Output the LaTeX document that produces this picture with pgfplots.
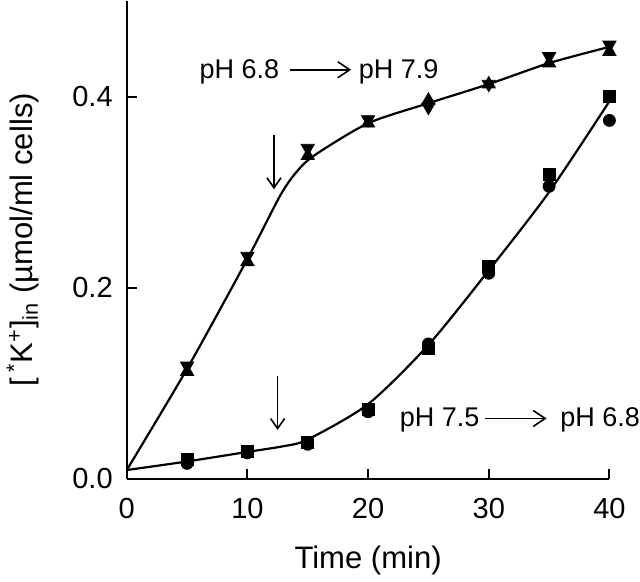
\documentclass[border=0pt]{standalone}
\usepackage{fontspec}
\setmainfont{Liberation Sans}
\usepackage{pgfplots}
\pgfplotsset{compat=1.18}
\usetikzlibrary{arrows.meta}
\begin{document}
\begin{tikzpicture}
\begin{axis}[
  scale only axis,
  width=241pt, height=238.5pt,
  xmin=0, xmax=40, ymin=0, ymax=0.5,
  axis x line*=bottom, axis y line*=left,
  axis line style={line width=1pt,-},
  tick style={line width=1pt,black},
  tick align=inside, major tick length=5pt,
  xtick={0,10,20,30,40}, ytick={0,0.2,0.4},
  minor tick num=0,
  /pgf/number format/assume math mode=true,
  yticklabel style={/pgf/number format/fixed,/pgf/number format/fixed zerofill,/pgf/number format/precision=1,font=\fontsize{14.5}{16}\selectfont, xshift=-3.5pt},
  xticklabel style={font=\fontsize{14.5}{16}\selectfont, yshift=-6pt},
  scaled y ticks=false,
  xlabel={Time (min)},
  ylabel={[\,\textsuperscript{*}K\textsuperscript{+}]\textsubscript{in} (µmol/ml cells)},
  label style={font=\fontsize{15.5}{17}\selectfont},
  xlabel style={yshift=-7pt},
  ylabel style={yshift=10pt},
  clip=false,
]
% fitted curves
\addplot[black, line width=1.1pt, smooth, tension=0.45] coordinates {
  (0,0.009) (5,0.115) (10,0.230) (12.7,0.296) (14,0.320) (15.5,0.338) (20,0.372) (25,0.393) (30,0.413) (35,0.435) (40,0.452)};
\addplot[black, line width=1.1pt, smooth, tension=0.45] coordinates {
  (0,0.009) (5,0.018) (10,0.028) (13,0.034) (15,0.041) (20,0.078) (25,0.140) (30,0.218) (35,0.300) (40,0.395)};
% upper data: triangles down and up
\addplot[only marks, mark=triangle*, mark size=3.8pt, mark options={rotate=180,fill=black,draw=black}] coordinates {
  (5,0.118) (10,0.233) (15,0.346) (20,0.376) (25,0.389) (30,0.413) (35,0.442) (40,0.454)};
\addplot[only marks, mark=triangle*, mark size=3.8pt, mark options={fill=black,draw=black}] coordinates {
  (5,0.112) (10,0.227) (15,0.338) (20,0.372) (25,0.396) (30,0.413) (35,0.435) (40,0.447)};
% lower data: squares and circles
\addplot[only marks, mark=square*, mark size=3pt, mark options={fill=black,draw=black}] coordinates {
  (5,0.020) (10,0.029) (15,0.038) (20,0.073) (25,0.136) (30,0.222) (35,0.319) (40,0.400)};
\addplot[only marks, mark=*, mark size=3pt, mark options={fill=black,draw=black}] coordinates {
  (5,0.016) (10,0.027) (15,0.036) (20,0.070) (25,0.141) (30,0.215) (35,0.306) (40,0.375)};
% arrows
\draw[line width=0.8pt, -{Straight Barb[length=5pt,width=7pt]}] (axis cs:12.2,0.360) -- (axis cs:12.2,0.303);
\draw[line width=0.8pt, -{Straight Barb[length=5pt,width=7pt]}] (axis cs:12.5,0.107) -- (axis cs:12.5,0.051);
\draw[line width=0.8pt, -{Straight Barb[length=6pt,width=8pt]}] (axis cs:13.5,0.428) -- (axis cs:18.6,0.428);
\draw[line width=0.8pt, -{Straight Barb[length=6pt,width=8pt]}] (axis cs:29.7,0.063) -- (axis cs:34.8,0.063);
\node[anchor=base west, inner sep=0, font=\fontsize{13.5}{15}\selectfont] at (axis cs:6.0,0.419) {pH 6.8};
\node[anchor=base west, inner sep=0, font=\fontsize{13.5}{15}\selectfont] at (axis cs:19.2,0.419) {pH 7.9};
\node[anchor=base west, inner sep=0, font=\fontsize{13.5}{15}\selectfont] at (axis cs:22.6,0.0545) {pH 7.5};
\node[anchor=base west, inner sep=0, font=\fontsize{13.5}{15}\selectfont] at (axis cs:35.9,0.0545) {pH 6.8};
\end{axis}
\end{tikzpicture}
\end{document}
